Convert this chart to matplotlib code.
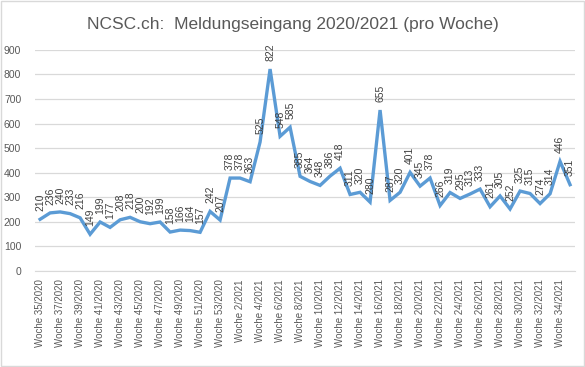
import matplotlib
matplotlib.use("Agg")
import matplotlib.pyplot as plt
from matplotlib.patches import Rectangle

plt.rcParams['font.family'] = ['Liberation Sans', 'DejaVu Sans']

# weekly report counts, Woche 35/2020 .. Woche 35/2021
weeks_2020 = list(range(35, 54))
weeks_2021 = list(range(1, 36))
values_2020 = [210, 236, 240, 233, 216, 149, 199, 177, 208, 218,
               200, 192, 199, 158, 166, 164, 157, 242, 207]
values_2021 = [378, 378, 363, 525, 822, 548, 585, 385, 364, 348,
               386, 418, 311, 320, 280, 655, 287, 320, 401, 345,
               378, 266, 319, 295, 313, 333, 261, 305, 252, 325,
               315, 274, 314, 446, 351]

labels = ['Woche %d/2020' % w for w in weeks_2020] + ['Woche %d/2021' % w for w in weeks_2021]
values = values_2020 + values_2021
x = list(range(len(values)))

fig = plt.figure(figsize=(5.85, 3.67), dpi=100)
ax = fig.add_axes([0.06, 0.262, 0.923, 0.602])

# chart border
fig.patches.append(Rectangle((0.002, 0.003), 0.996, 0.994, transform=fig.transFigure,
                             fill=False, edgecolor='#d9d9d9', linewidth=1))

ax.plot(x, values, color='#5B9BD5', linewidth=2.4, solid_joinstyle='miter')

for xi, v in zip(x, values):
    ax.annotate(str(v), (xi, v), xytext=(0, 6), textcoords='offset points',
                rotation=90, ha='center', va='bottom', fontsize=7.5, color='#404040')

ax.set_ylim(0, 900)
ax.set_yticks(range(0, 901, 100))
ax.set_xlim(-0.5, len(values) - 0.5)
ax.set_xticks(x[::2])
ax.set_xticklabels(labels[::2], rotation=90, fontsize=7, color='#595959')
ax.tick_params(axis='y', labelsize=7.5, labelcolor='#595959', length=0, pad=10)
ax.tick_params(axis='x', length=0, pad=6)

ax.grid(axis='y', color='#d9d9d9', linewidth=0.9)
ax.set_axisbelow(True)
for s in ['top', 'right', 'left']:
    ax.spines[s].set_visible(False)
ax.spines['bottom'].set_color('#d9d9d9')

fig.suptitle('NCSC.ch:  Meldungseingang 2020/2021 (pro Woche)', y=0.955,
             fontsize=12.5, color='#595959')

fig.savefig('out.png', dpi=100)
